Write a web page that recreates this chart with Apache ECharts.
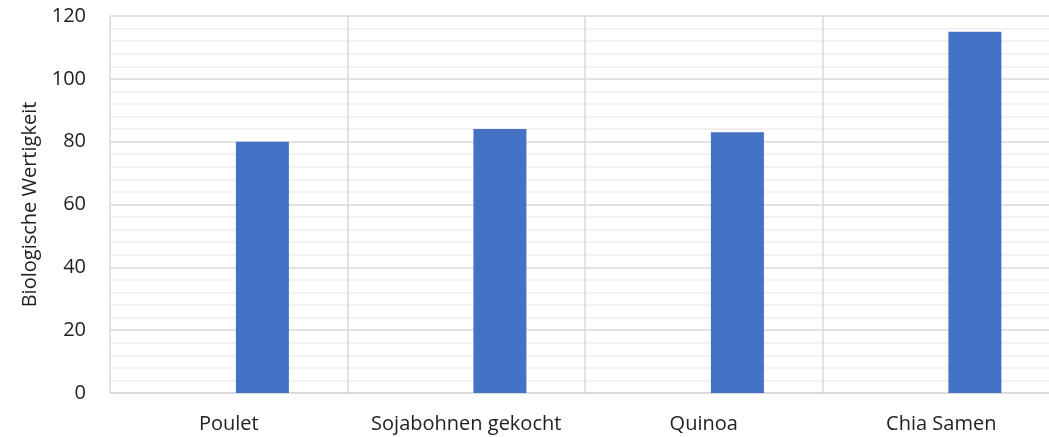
<!DOCTYPE html>
<html>
<head>
<meta charset="utf-8">
<script src="https://cdn.jsdelivr.net/npm/echarts@6/dist/echarts.min.js"></script>
<style>
  html, body { margin: 0; padding: 0; background: #fff; overflow: hidden; }
  /* plot area runs a little past the right edge of the window */
  #chart { width: 1060px; height: 437px; }
</style>
</head>
<body>
<div id="chart"></div>
<script>
// Biological value per food
const categories = ['Poulet', 'Sojabohnen gekocht', 'Quinoa', 'Chia Samen'];
const emptySeries = [null, null, null, null];
const biologischeWertigkeit = [80, 84, 83, 115];
const yTicks = { min: 0, max: 120, interval: 20 };

const chart = echarts.init(document.getElementById('chart'));
const font = '"Open Sans", "Noto Sans", sans-serif';

chart.setOption({
  animation: false,
  grid: { left: 110, right: 0, top: 16, bottom: 44, containLabel: false },
  xAxis: {
    type: 'category',
    data: categories,
    boundaryGap: true,
    axisLine: { show: true, lineStyle: { color: '#d9d9d9', width: 1.5 } },
    axisTick: { show: false },
    splitLine: { show: true, lineStyle: { color: '#d9d9d9', width: 1.5 } },
    axisLabel: { color: '#222', fontFamily: font, fontSize: 20, margin: 21, interval: 0 }
  },
  yAxis: {
    type: 'value',
    min: yTicks.min,
    max: yTicks.max,
    interval: yTicks.interval,
    name: 'Biologische Wertigkeit',
    nameLocation: 'middle',
    nameGap: 67,
    nameTextStyle: { color: '#222', fontFamily: font, fontSize: 20 },
    axisLine: { show: false },
    axisTick: { show: false },
    axisLabel: { color: '#222', fontFamily: font, fontSize: 20, margin: 24 },
    splitLine: { show: true, lineStyle: { color: '#d9d9d9', width: 1.5 } },
    minorTick: { show: false, splitNumber: 5 },
    minorSplitLine: { show: true, lineStyle: { color: '#eeeeee', width: 1.5 } }
  },
  series: [
    {
      name: 'leer',
      type: 'bar',
      data: emptySeries,
      barWidth: 53,
      barGap: '27%'
    },
    {
      name: 'Biologische Wertigkeit',
      type: 'bar',
      data: biologischeWertigkeit,
      barWidth: 53,
      barGap: '27%',
      itemStyle: { color: '#4472c4' }
    }
  ]
});
</script>
</body>
</html>
